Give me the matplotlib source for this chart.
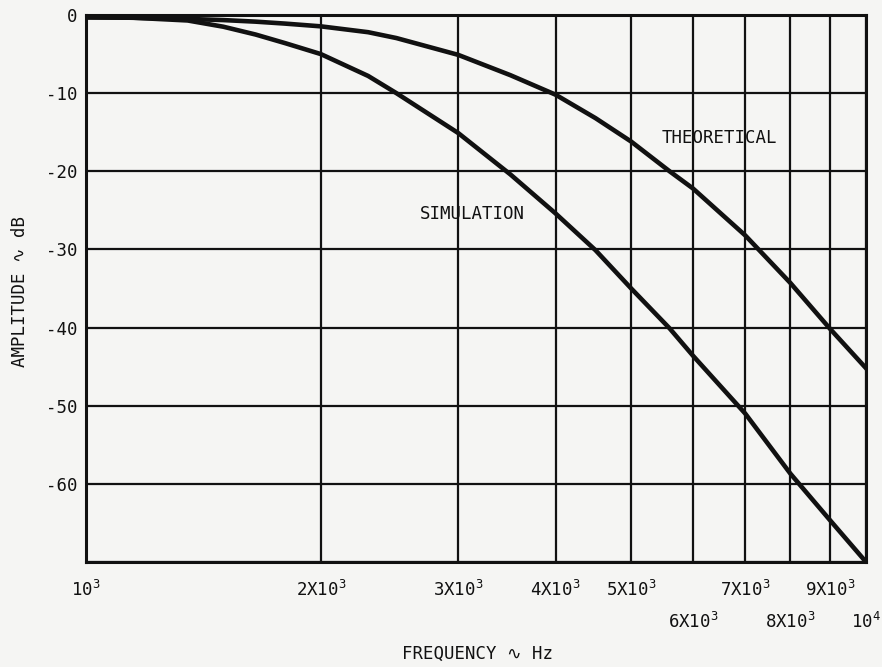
import numpy as np
import matplotlib.pyplot as plt

# frequency points (Hz) and amplitude response (dB)
freq = [1000, 1150, 1350, 1500, 1650, 1800, 2000, 2300, 2500, 3000,
        3500, 4000, 4500, 5000, 5600, 6000, 7000, 8000, 9000, 10000]
theoretical = [-0.3, -0.35, -0.5, -0.65, -0.85, -1.1, -1.45, -2.2, -2.95, -5.1,
               -7.7, -10.2, -13.2, -16.2, -20.0, -22.2, -28.2, -34.3, -40.2, -45.2]
simulation = [-0.3, -0.35, -0.7, -1.5, -2.5, -3.6, -5.0, -7.8, -10.0, -15.1,
              -20.4, -25.4, -30.1, -35.0, -40.1, -43.6, -51.0, -58.7, -64.7, -70.0]

# x tick labels split in two rows like the original log paper
row1_ticks = [1000, 2000, 3000, 4000, 5000, 7000, 9000]
row1_labels = ['10$^3$', '2X10$^3$', '3X10$^3$', '4X10$^3$', '5X10$^3$',
               '7X10$^3$', '9X10$^3$']
row2_ticks = [6000, 8000, 10000]
row2_labels = ['6X10$^3$', '8X10$^3$', '10$^4$']
y_ticks = [0, -10, -20, -30, -40, -50, -60, -70]
y_labels = ['0', '-10', '-20', '-30', '-40', '-50', '-60', '']

bg = '#f5f5f3'
ink = '#111111'
plt.rcParams['font.family'] = ['DejaVu Sans Mono', 'DejaVu Sans']
plt.rcParams['mathtext.fontset'] = 'custom'
plt.rcParams['mathtext.rm'] = 'DejaVu Sans Mono'
plt.rcParams['mathtext.it'] = 'DejaVu Sans Mono'

fig = plt.figure(figsize=(8.82, 6.67), dpi=100, facecolor=bg)
ax = fig.add_axes([0.0975, 0.1574, 0.8844, 0.8201], facecolor=bg)

ax.plot(freq, theoretical, color=ink, lw=3.3, solid_joinstyle='round', zorder=3)
ax.plot(freq, simulation, color=ink, lw=3.3, solid_joinstyle='round', zorder=3)

ax.set_xscale('log')
ax.set_xlim(1000, 10000)
ax.set_ylim(-70, 0)

ax.set_xticks(row1_ticks, row1_labels)
ax.set_xticks(row2_ticks, row2_labels, minor=True)
ax.set_yticks(y_ticks, y_labels)
ax.tick_params(axis='both', which='both', length=0, labelsize=12.5, colors=ink)
ax.tick_params(axis='x', which='major', pad=13)
ax.tick_params(axis='x', which='minor', pad=36)
ax.tick_params(axis='y', pad=6)

ax.grid(True, which='both', color=ink, lw=1.6)
ax.set_axisbelow(True)
for s in ax.spines.values():
    s.set_linewidth(2.2)
    s.set_color(ink)

ax.text(5470, -15.75, 'THEORETICAL', fontsize=12.5, color=ink,
        ha='left', va='center', zorder=4)
ax.text(2676, -25.5, 'SIMULATION', fontsize=12.5, color=ink,
        ha='left', va='center', zorder=4)

fig.text(0.541, 0.02, 'FREQUENCY \u223f Hz', fontsize=12.5, color=ink,
         ha='center', va='center')
fig.text(0.023, 0.563, 'AMPLITUDE \u223f dB', fontsize=12.5, color=ink,
         ha='center', va='center', rotation=90)

fig.savefig('out.png', dpi=100, facecolor=bg)
